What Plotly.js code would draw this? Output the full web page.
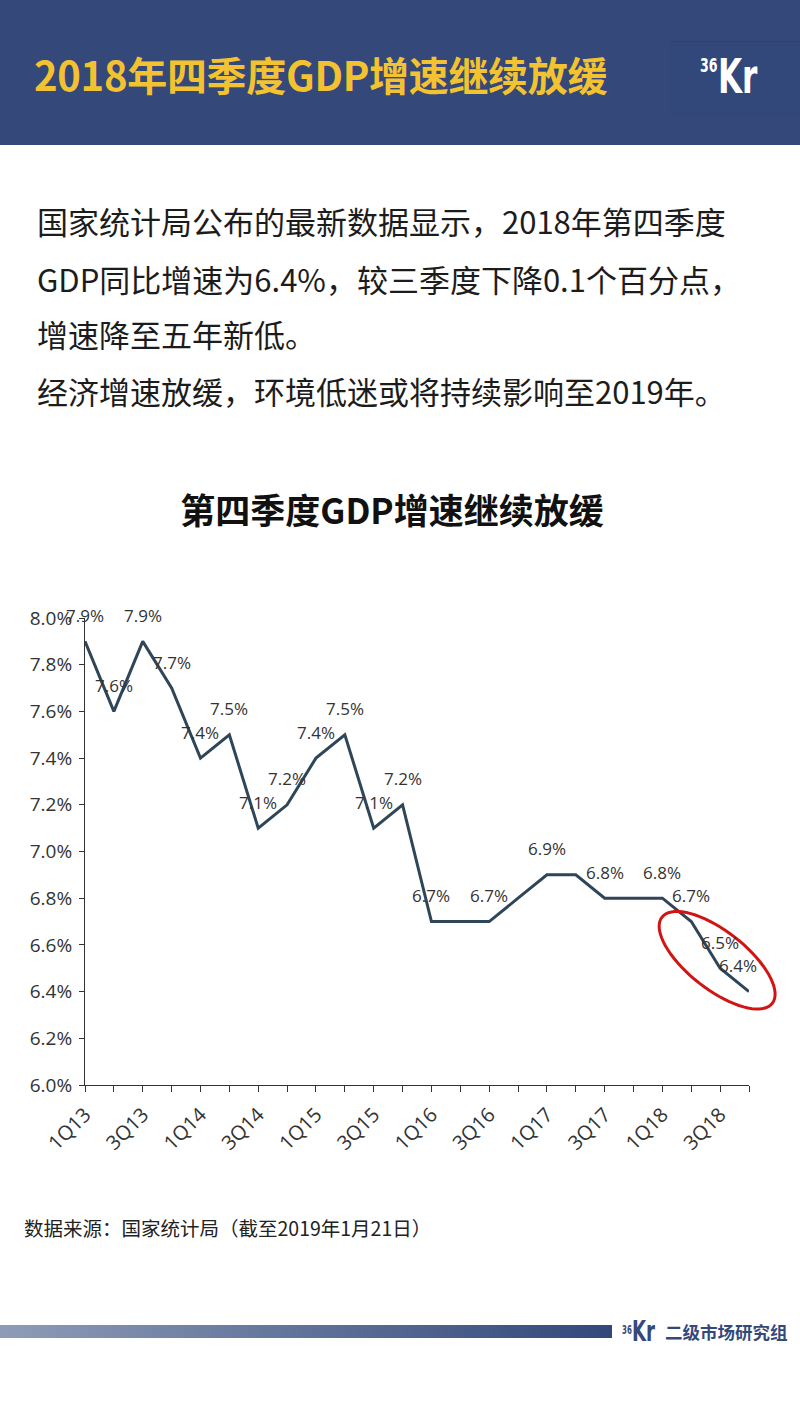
<!DOCTYPE html>
<html>
<head>
<meta charset="utf-8">
<script src="https://cdn.plot.ly/plotly-3.0.1.min.js"></script>
<style>
  html,body{margin:0;padding:0;background:#fff;}
  body{width:800px;height:1423px;position:relative;overflow:hidden;font-family:"Noto Sans CJK SC","Noto Sans",sans-serif;}
  #header{position:absolute;left:0;top:0;width:800px;height:145px;background:#34497a;}
  #htitle{position:absolute;left:34px;top:45px;font-size:40px;font-weight:bold;color:#f2c230;line-height:58px;letter-spacing:-0.3px;white-space:nowrap;}
  #logobox{position:absolute;left:669px;top:41px;width:131px;height:74px;background:#33487a;border-top:1px solid #2e4270;}
  .logo{position:absolute;font-weight:bold;white-space:nowrap;transform-origin:left top;font-family:'DejaVu Sans Condensed','DejaVu Sans',sans-serif;}
  .line{position:absolute;left:37px;font-size:31px;color:#1c1c1c;white-space:nowrap;line-height:40px;}
  #foot{position:absolute;left:24px;top:1214px;font-size:19.5px;color:#222;white-space:nowrap;line-height:28px;}
  #bar{position:absolute;left:0;top:1325px;width:612px;height:13px;background:linear-gradient(to right,#8e9cb8,#33487a);}
  #brand{position:absolute;left:665px;top:1318px;font-size:17.5px;font-weight:bold;color:#34497a;white-space:nowrap;line-height:28px;}
  #chart{position:absolute;left:0;top:0;width:800px;height:1423px;}
</style>
</head>
<body>
<div id="header">
  <div id="htitle">2018年四季度GDP增速继续放缓</div>
  <div id="logobox">
    <span class="logo" style="left:31px;top:13px;font-size:20px;line-height:20px;color:#fff;transform:scaleX(0.7);">36</span>
    <span class="logo" style="left:49px;top:10px;font-size:48px;line-height:48px;color:#fff;transform:scaleX(0.72);">Kr</span>
  </div>
</div>
<div class="line" style="top:201px;">国家统计局公布的最新数据显示，2018年第四季度</div>
<div class="line" style="top:259px;">GDP同比增速为6.4%，较三季度下降0.1个百分点，</div>
<div class="line" style="top:314px;">增速降至五年新低。</div>
<div class="line" style="top:371px;">经济增速放缓，环境低迷或将持续影响至2019年。</div>
<div id="chart"></div>
<div id="foot">数据来源：国家统计局（截至2019年1月21日）</div>
<div id="bar"></div>
<span class="logo" style="left:622px;top:1324px;font-size:12px;line-height:12px;color:#34497a;transform:scaleX(0.65);">36</span>
<span class="logo" style="left:632px;top:1318px;font-size:28px;line-height:28px;color:#34497a;transform:scaleX(0.72);">Kr</span>
<div id="brand">二级市场研究组</div>
<script>
// ---- data ----
var quarters = ["1Q13","2Q13","3Q13","4Q13","1Q14","2Q14","3Q14","4Q14","1Q15","2Q15","3Q15","4Q15",
                "1Q16","2Q16","3Q16","4Q16","1Q17","2Q17","3Q17","4Q17","1Q18","2Q18","3Q18","4Q18"];
var gdpGrowth = [7.9,7.6,7.9,7.7,7.4,7.5,7.1,7.2,7.4,7.5,7.1,7.2,
                 6.7,6.7,6.7,6.8,6.9,6.9,6.8,6.8,6.8,6.7,6.5,6.4];
var showLabel = [1,1,1,1,1,1,1,1,1,1,1,1,1,0,1,0,1,0,1,0,1,1,1,1];
var tickLabels = ["1Q13","","3Q13","","1Q14","","3Q14","","1Q15","","3Q15","",
                  "1Q16","","3Q16","","1Q17","","3Q17","","1Q18","","3Q18",""];
var yTicks = [6.0,6.2,6.4,6.6,6.8,7.0,7.2,7.4,7.6,7.8,8.0];
var yMin = 6.0, yMax = 8.0;
var highlightIndex = 22;

var fontFam = "Open Sans, Noto Sans CJK SC, sans-serif";

var annotations = [];
for (var i = 0; i < quarters.length; i++) {
  if (!showLabel[i]) continue;
  annotations.push({
    x: quarters[i], y: gdpGrowth[i], xref: "x", yref: "y",
    text: gdpGrowth[i].toFixed(1) + "%", showarrow: false,
    yshift: 26, xshift: (i === quarters.length - 1 ? -11 : 0),
    font: {family: fontFam, size: 17, color: "#333"}
  });
}

// red ellipse highlight (pixel path relative to an anchor at the highlighted point)
var a = 70, b = 29, th = -38 * Math.PI / 180, cx = -3, cy = 8;
var path = "";
for (var k = 0; k <= 72; k++) {
  var t = k / 72 * 2 * Math.PI;
  var px = cx + a * Math.cos(t) * Math.cos(th) - b * Math.sin(t) * Math.sin(th);
  var py = cy + a * Math.cos(t) * Math.sin(th) + b * Math.sin(t) * Math.cos(th);
  path += (k === 0 ? "M" : "L") + px.toFixed(2) + "," + py.toFixed(2);
}
path += "Z";

var trace = {
  x: quarters, y: gdpGrowth, type: "scatter", mode: "lines",
  line: {color: "#2e4658", width: 3},
  cliponaxis: false, hoverinfo: "skip"
};

var layout = {
  width: 800, height: 1423,
  margin: {l: 85, r: 51, t: 618, b: 338},
  paper_bgcolor: "rgba(0,0,0,0)", plot_bgcolor: "rgba(0,0,0,0)",
  showlegend: false,
  title: {text: "<b>第四季度GDP增速继续放缓</b>", x: 392/800, xanchor: "center",
          y: 1 - 512/1423, yanchor: "middle", yref: "container",
          font: {family: "Noto Sans CJK SC, sans-serif", size: 35, color: "#111"}},
  xaxis: {
    type: "category", range: [0, quarters.length - 1],
    tickmode: "array", tickvals: quarters, ticktext: tickLabels,
    tickangle: -45, ticks: "outside", ticklen: 6, tickcolor: "#333", tickwidth: 1,
    ticklabelstandoff: 3,
    showline: true, linecolor: "#333", linewidth: 1,
    showgrid: false, zeroline: false,
    tickfont: {family: fontFam, size: 20, color: "#333"}
  },
  yaxis: {
    range: [yMin, yMax], tickmode: "array", tickvals: yTicks,
    ticktext: yTicks.map(function(v){return v.toFixed(1) + "%";}),
    ticks: "outside", ticklen: 5, tickcolor: "#333", tickwidth: 1,
    ticklabelstandoff: 3,
    showline: true, linecolor: "#333", linewidth: 1,
    showgrid: false, zeroline: false,
    tickfont: {family: fontFam, size: 19, color: "#333"}
  },
  annotations: annotations,
  shapes: [{
    type: "path", xref: "paper", yref: "paper",
    xsizemode: "pixel", ysizemode: "pixel",
    xanchor: highlightIndex / (quarters.length - 1),
    yanchor: (gdpGrowth[highlightIndex] - yMin) / (yMax - yMin),
    path: path, line: {color: "#d01515", width: 3}, fillcolor: "rgba(0,0,0,0)"
  }]
};

Plotly.newPlot("chart", [trace], layout, {displayModeBar: false, staticPlot: true});
</script>
</body>
</html>
